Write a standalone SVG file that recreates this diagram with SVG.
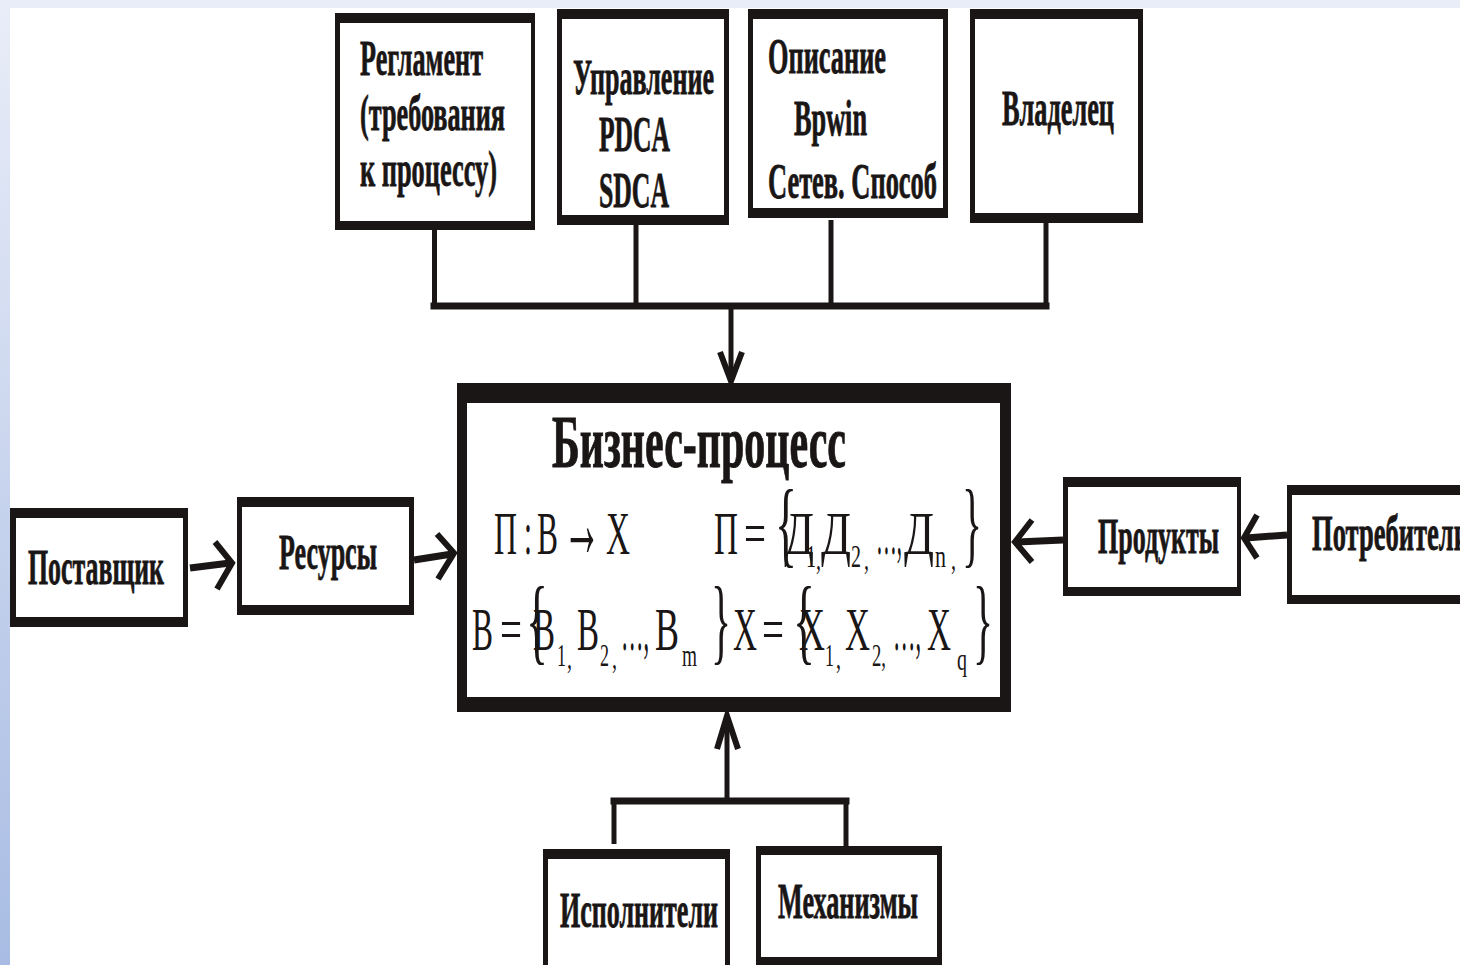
<svg xmlns="http://www.w3.org/2000/svg" width="1460" height="965" viewBox="0 0 1460 965">
<defs>
<linearGradient id="lg" x1="0" y1="0" x2="0" y2="1">
<stop offset="0" stop-color="#e9edf8"/>
<stop offset="1" stop-color="#a8bce3"/>
</linearGradient>
</defs>
<style>
.frame{fill:#1a1616}
.inner{fill:#ffffff}
.b{font-family:"Liberation Serif","Times New Roman",serif;font-weight:bold;font-size:50px;fill:#1a1616;stroke:#1a1616;stroke-width:0.8}
.t{font-family:"Liberation Serif","Times New Roman",serif;font-weight:bold;font-size:74px;fill:#1a1616;stroke:#1a1616;stroke-width:1}
.f{font-family:"Liberation Serif","Times New Roman",serif;font-size:62px;fill:#1a1616}
.s{font-family:"Liberation Serif","Times New Roman",serif;font-size:32px;fill:#1a1616}
.br{font-family:"Liberation Serif","Times New Roman",serif;font-size:96px;fill:#1a1616}
.arw{font-family:"Liberation Serif","Times New Roman",serif;font-size:100px;fill:#1a1616}
.ln{stroke:#1a1616;stroke-width:5;fill:none;stroke-linecap:butt}
.bus{stroke:#1a1616;stroke-width:7;fill:none;stroke-linecap:square}
.ar{stroke:#1a1616;stroke-width:7;fill:none}
.hd{stroke:#1a1616;stroke-width:6;fill:none;stroke-linejoin:miter}
</style>
<rect x="0" y="0" width="1460" height="965" fill="#ffffff"/>
<rect x="0" y="0" width="1460" height="8" fill="#e9edf8"/>
<rect x="0" y="0" width="10" height="965" fill="url(#lg)"/>

<g id="connectors">
<line class="ln" x1="434.5" y1="228" x2="434.5" y2="306"/>
<line class="ln" x1="636" y1="222" x2="636" y2="306"/>
<line class="ln" x1="831" y1="220" x2="831" y2="306"/>
<line class="ln" x1="1046" y1="220" x2="1046" y2="306"/>
<line class="bus" x1="434" y1="306" x2="1046" y2="306"/>
<line class="ln" x1="731" y1="306" x2="731" y2="380"/>
<polyline class="hd" points="720,352 731,381 742,352"/>

<line class="ln" x1="614" y1="801" x2="614" y2="844"/>
<line class="ln" x1="846" y1="801" x2="846" y2="848"/>
<line class="bus" x1="614" y1="801" x2="846" y2="801"/>
<line class="ln" x1="727" y1="801" x2="727" y2="716"/>
<polyline class="hd" points="717,749 727,716 738,749"/>

<line class="ar" x1="190" y1="568" x2="230" y2="563"/>
<polyline class="hd" points="215,542 232,563 217,589"/>
<line class="ar" x1="414" y1="560" x2="452" y2="554"/>
<polyline class="hd" points="437,534 454,553 438,579"/>
<line class="ar" x1="1063" y1="540" x2="1017" y2="542"/>
<polyline class="hd" points="1032,520 1015,542 1032,562"/>
<line class="ar" x1="1287" y1="535" x2="1246" y2="538"/>
<polyline class="hd" points="1257,515 1244,538 1257,558"/>
</g>

<g id="reglament">
<rect class="frame" x="335" y="13" width="200" height="217"/>
<rect class="inner" x="340" y="23" width="191" height="198"/>
<text class="b" x="360" y="75" textLength="123" lengthAdjust="spacingAndGlyphs">Регламент</text>
<text class="b" x="360" y="130" textLength="145" lengthAdjust="spacingAndGlyphs">(требования</text>
<text class="b" x="360" y="186" textLength="137" lengthAdjust="spacingAndGlyphs">к процессу)</text>
</g>

<g id="upravlenie">
<rect class="frame" x="557" y="9" width="172" height="216"/>
<rect class="inner" x="562" y="19" width="162" height="196"/>
<text class="b" x="573" y="94" textLength="141" lengthAdjust="spacingAndGlyphs">Управление</text>
<text class="b" x="599" y="151" textLength="71" lengthAdjust="spacingAndGlyphs">PDCA</text>
<text class="b" x="599" y="207" textLength="70" lengthAdjust="spacingAndGlyphs">SDCA</text>
</g>

<g id="opisanie">
<rect class="frame" x="748" y="9" width="200" height="209"/>
<rect class="inner" x="753" y="19" width="190" height="189"/>
<text class="b" x="768" y="73" textLength="118" lengthAdjust="spacingAndGlyphs">Описание</text>
<text class="b" x="794" y="135" textLength="73" lengthAdjust="spacingAndGlyphs">Bpwin</text>
<text class="b" x="768" y="198" textLength="169" lengthAdjust="spacingAndGlyphs">Сетев. Способ</text>
</g>

<g id="vladelets">
<rect class="frame" x="970" y="9" width="173" height="214"/>
<rect class="inner" x="975" y="19" width="163" height="194"/>
<text class="b" x="1002" y="125" textLength="112" lengthAdjust="spacingAndGlyphs">Владелец</text>
</g>

<g id="postavshchik">
<rect class="frame" x="10" y="508" width="178" height="119"/>
<rect class="inner" x="16" y="518" width="167" height="99"/>
<text class="b" x="28" y="584" textLength="136" lengthAdjust="spacingAndGlyphs">Поставщик</text>
</g>

<g id="resursy">
<rect class="frame" x="237" y="497" width="177" height="118"/>
<rect class="inner" x="242" y="507" width="167" height="98"/>
<text class="b" x="279" y="569" textLength="98" lengthAdjust="spacingAndGlyphs">Ресурсы</text>
</g>

<g id="produkty">
<rect class="frame" x="1063" y="477" width="178" height="119"/>
<rect class="inner" x="1068" y="487" width="169" height="100"/>
<text class="b" x="1098" y="553" textLength="121" lengthAdjust="spacingAndGlyphs">Продукты</text>
</g>

<g id="potrebiteli">
<rect class="frame" x="1287" y="485" width="200" height="119"/>
<rect class="inner" x="1292" y="495" width="190" height="100"/>
<text class="b" x="1312" y="550" textLength="157" lengthAdjust="spacingAndGlyphs">Потребители</text>
</g>

<g id="ispolniteli">
<rect class="frame" x="543" y="849" width="187" height="130"/>
<rect class="inner" x="548" y="859" width="177" height="120"/>
<text class="b" x="560" y="927" textLength="158" lengthAdjust="spacingAndGlyphs">Исполнители</text>
</g>

<g id="mekhanizmy">
<rect class="frame" x="756" y="846" width="186" height="119"/>
<rect class="inner" x="761" y="855" width="176" height="102"/>
<text class="b" x="778" y="918" textLength="140" lengthAdjust="spacingAndGlyphs">Механизмы</text>
</g>

<g id="business-process">
<rect class="frame" x="457" y="383" width="554" height="329"/>
<rect class="inner" x="467" y="403" width="533" height="294"/>
<text class="t" x="552" y="467" textLength="294" lengthAdjust="spacingAndGlyphs">Бизнес-процесс</text>

<text class="f" x="494" y="554" textLength="23" lengthAdjust="spacingAndGlyphs">П</text>
<text class="f" x="524" y="554" textLength="8" lengthAdjust="spacingAndGlyphs">:</text>
<text class="f" x="537" y="554" textLength="21" lengthAdjust="spacingAndGlyphs">В</text>
<text class="arw" x="563" y="557" textLength="38" lengthAdjust="spacingAndGlyphs">→</text>
<text class="f" x="606" y="554" textLength="24" lengthAdjust="spacingAndGlyphs">Х</text>

<text class="f" x="714" y="554" textLength="24" lengthAdjust="spacingAndGlyphs">П</text>
<text class="f" x="744" y="554" textLength="22" lengthAdjust="spacingAndGlyphs">=</text>
<text class="br" x="775" y="555" textLength="22" lengthAdjust="spacingAndGlyphs">{</text>
<text class="f" x="784" y="554" textLength="30" lengthAdjust="spacingAndGlyphs">Д</text>
<text class="s" x="806" y="567" textLength="10" lengthAdjust="spacingAndGlyphs">1</text>
<text class="s" x="816" y="569" textLength="5" lengthAdjust="spacingAndGlyphs">,</text>
<text class="f" x="821" y="554" textLength="30" lengthAdjust="spacingAndGlyphs">Д</text>
<text class="s" x="851" y="567" textLength="10" lengthAdjust="spacingAndGlyphs">2</text>
<text class="s" x="864" y="569" textLength="5" lengthAdjust="spacingAndGlyphs">,</text>
<text class="f" x="876" y="554" textLength="26" lengthAdjust="spacingAndGlyphs">…,</text>
<text class="f" x="904" y="554" textLength="30" lengthAdjust="spacingAndGlyphs">Д</text>
<text class="s" x="935" y="567" textLength="11" lengthAdjust="spacingAndGlyphs">n</text>
<text class="s" x="951" y="569" textLength="5" lengthAdjust="spacingAndGlyphs">,</text>
<text class="br" x="962" y="555" textLength="20" lengthAdjust="spacingAndGlyphs">}</text>

<text class="f" x="472" y="650" textLength="21" lengthAdjust="spacingAndGlyphs">В</text>
<text class="f" x="500" y="650" textLength="22" lengthAdjust="spacingAndGlyphs">=</text>
<text class="br" x="526" y="652" textLength="22" lengthAdjust="spacingAndGlyphs">{</text>
<text class="f" x="533" y="650" textLength="22" lengthAdjust="spacingAndGlyphs">В</text>
<text class="s" x="557" y="666" textLength="9" lengthAdjust="spacingAndGlyphs">1</text>
<text class="s" x="567" y="668" textLength="5" lengthAdjust="spacingAndGlyphs">,</text>
<text class="f" x="577" y="650" textLength="22" lengthAdjust="spacingAndGlyphs">В</text>
<text class="s" x="600" y="666" textLength="9" lengthAdjust="spacingAndGlyphs">2</text>
<text class="s" x="612" y="668" textLength="5" lengthAdjust="spacingAndGlyphs">,</text>
<text class="f" x="621" y="650" textLength="28" lengthAdjust="spacingAndGlyphs">…,</text>
<text class="f" x="655" y="650" textLength="24" lengthAdjust="spacingAndGlyphs">В</text>
<text class="s" x="682" y="666" textLength="15" lengthAdjust="spacingAndGlyphs">m</text>
<text class="br" x="711" y="652" textLength="20" lengthAdjust="spacingAndGlyphs">}</text>
<text class="f" x="733" y="650" textLength="24" lengthAdjust="spacingAndGlyphs">Х</text>
<text class="f" x="762" y="650" textLength="22" lengthAdjust="spacingAndGlyphs">=</text>
<text class="br" x="793" y="652" textLength="22" lengthAdjust="spacingAndGlyphs">{</text>
<text class="f" x="799" y="650" textLength="26" lengthAdjust="spacingAndGlyphs">Х</text>
<text class="s" x="825" y="666" textLength="9" lengthAdjust="spacingAndGlyphs">1</text>
<text class="s" x="836" y="668" textLength="5" lengthAdjust="spacingAndGlyphs">,</text>
<text class="f" x="845" y="650" textLength="25" lengthAdjust="spacingAndGlyphs">Х</text>
<text class="s" x="872" y="666" textLength="14" lengthAdjust="spacingAndGlyphs">2,</text>
<text class="f" x="893" y="650" textLength="28" lengthAdjust="spacingAndGlyphs">…,</text>
<text class="f" x="927" y="650" textLength="24" lengthAdjust="spacingAndGlyphs">Х</text>
<text class="s" x="957" y="670" textLength="10" lengthAdjust="spacingAndGlyphs">q</text>
<text class="br" x="973" y="652" textLength="20" lengthAdjust="spacingAndGlyphs">}</text>
</g>
</svg>
